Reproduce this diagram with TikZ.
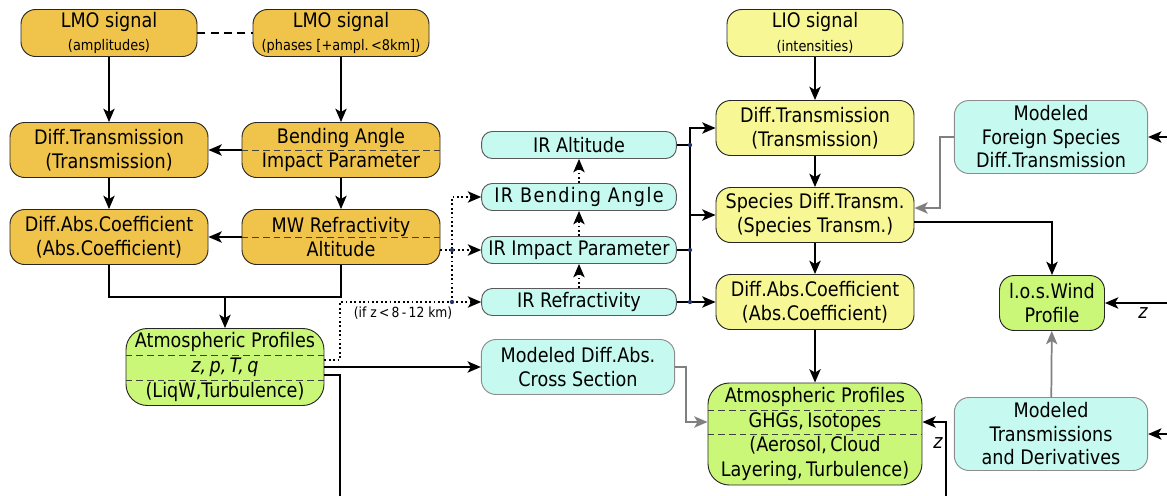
\documentclass[tikz,border=0pt]{standalone}
\usepackage{fontspec}
\setmainfont[FakeStretch=0.88]{DejaVu Sans}
\usepackage{tikz}
\usetikzlibrary{arrows.meta, positioning, calc}
\definecolor{lmocolor}{RGB}{240,195,74}
\definecolor{liocolor}{RGB}{247,247,150}
\definecolor{ircolor}{RGB}{198,250,240}
\definecolor{profcolor}{RGB}{203,247,120}
\definecolor{dotcolor}{RGB}{35,55,110}
\newcommand{\subtxt}[1]{{\fontsize{11}{12}\selectfont #1}}

\begin{document}
\begin{tikzpicture}[
    x=0.75pt, y=-0.75pt,
    box/.style={draw=black!85, line width=0.7pt, fill=#1, rounded corners=11pt, inner sep=0pt, align=center, font=\fontsize{15}{17.6}\selectfont, minimum width=148.5pt, minimum height=41.25pt},
    signal/.style={box=#1, minimum width=132pt, minimum height=35.25pt},
    profile/.style={box=profcolor, rounded corners=16pt, font=\fontsize{15}{18.4}\selectfont},
    irbox/.style={box=ircolor, draw=black!65, rounded corners=8pt, minimum width=146pt, minimum height=20.25pt},
    model/.style={box=ircolor, draw=black!45, minimum width=145pt},
    flow/.style={-{Stealth[length=10pt,width=8.5pt,inset=2.5pt]}, line width=1.3pt},
    dotflow/.style={flow, dotted},
    modflow/.style={flow, draw=black!50},
    divider/.style={dash pattern=on 5pt off 3pt, line width=0.6pt, black!75},
    joint/.style={fill=dotcolor}
]
    \useasboundingbox (0,0) rectangle (1167,496);

    % LMO branch
    \node[signal=lmocolor] (lmoamp) at (109,33) {LMO signal\\\subtxt{(amplitudes)}};
    \node[signal=lmocolor] (lmophase) at (341,33) {LMO signal\\\subtxt{(phases [+ampl.\,<8km])}};
    \node[box=lmocolor] (dtleft) at (109,150) {Diff.Transmission\\(Transmission)};
    \node[box=lmocolor] (bend) at (341,150) {Bending Angle\\Impact Parameter};
    \node[box=lmocolor] (dabsleft) at (109,237) {Diff.Abs.Coefficient\\(Abs.Coefficient)};
    \node[box=lmocolor] (mwref) at (341,237) {MW Refractivity\\Altitude};
    \node[profile, minimum height=57.75pt] (atmoleft) at (225,367) {Atmospheric Profiles\\\textit{z,\,p,\,T,\,q}\\(LiqW,Turbulence)};
    \draw[divider] (bend.west) -- (bend.east);
    \draw[divider] (mwref.west) -- (mwref.east);
    \draw[divider] ($(atmoleft.west)+(0,-12)$) -- ($(atmoleft.east)+(0,-12)$);
    \draw[divider] ($(atmoleft.west)+(0,13)$) -- ($(atmoleft.east)+(0,13)$);

    % IR branch
    \node[irbox] (iralt) at (579,145) {IR Altitude};
    \node[irbox] (irbend) at (579,197) {\addfontfeature{LetterSpace=7}IR Bending Angle};
    \node[irbox] (irimp) at (579,250) {IR Impact Parameter};
    \node[irbox] (irref) at (579,302) {IR Refractivity};
    \node[model] (moddiff) at (578,367) {Modeled Diff.Abs.\\Cross Section};

    % LIO branch
    \node[signal=liocolor] (lio) at (815,33) {LIO signal\\\subtxt{(intensities)}};
    \node[box=liocolor] (dtright) at (815,128) {Diff.Transmission\\(Transmission)};
    \node[box=liocolor] (species) at (815,215) {Species Diff.Transm.\\(Species Transm.)};
    \node[box=liocolor] (dabsright) at (815,302) {Diff.Abs.Coefficient\\(Abs.Coefficient)};
    \node[profile, minimum width=160.5pt, minimum height=76.5pt] (atmoright) at (815,434) {Atmospheric Profiles\\GHGs,\,Isotopes\\(Aerosol,\,Cloud\\Layering,\,Turbulence)};
    \draw[divider] ($(atmoright.west)+(0,-24)$) -- ($(atmoright.east)+(0,-24)$);
    \draw[divider] (atmoright.west) -- (atmoright.east);
    \node[model, minimum height=54.75pt] (foreign) at (1051,137) {Modeled\\Foreign Species\\Diff.Transmission};
    \node[box=profcolor, minimum width=78.75pt] (wind) at (1052,303) {l.o.s.Wind\\Profile};
    \node[model, minimum height=54.75pt] (modtrans) at (1051,434) {Modeled\\Transmissions\\and Derivatives};

    % Junctions
    \coordinate (join) at (225,297);
    \coordinate (dj1) at (452,250);
    \coordinate (dj2) at (452,302);
    \coordinate (ifz) at (340,302);
    \coordinate (rb1) at (690,145);
    \coordinate (rb2) at (690,250);
    \coordinate (rb3) at (690,302);
    \coordinate (gbend) at (686,422);
    \coordinate (fbend) at (940,208);
    \coordinate (zbend) at (946,422);
    \coordinate (inforeign) at (1167,137);
    \coordinate (inwind) at (1167,303);
    \coordinate (intrans) at (1167,434);
    \coordinate (botz) at (946,496);
    \coordinate (botleft) at (340,496);

    % Connections LMO
    \draw[dash pattern=on 6pt off 4pt, line width=1.3pt] (lmoamp) -- (lmophase);
    \draw[flow] (lmoamp) -- (dtleft);
    \draw[flow] (lmophase) -- (bend);
    \draw[flow] (bend) -- (dtleft);
    \draw[flow] (dtleft) -- (dabsleft);
    \draw[flow] (bend) -- (mwref);
    \draw[flow] (mwref) -- (dabsleft);
    \draw[line width=1.3pt] (dabsleft.south) |- (join) -| (mwref.south);
    \draw[flow] (join) -- (atmoleft);

    % Connections IR
    \draw[dotflow] (mwref.east |- irimp) -- (irimp);
    \draw[dotflow] (dj2) |- (irbend);
    \draw[dotflow] (dj2) -- (irref);
    \draw[dotted, line width=1.3pt] ($(atmoleft.east)+(0,-7)$) -| (ifz) -- (dj2);
    \node[font=\fontsize{10.5}{12}\selectfont] (ifzlabel) at (403,313) {(if z\,<\,8\,-\,12 km)};
    \draw[dotflow] (irref) -- (irimp);
    \draw[dotflow] (irimp) -- (irbend);
    \draw[dotflow] (irbend) -- (iralt);
    \draw[line width=1.3pt] (iralt) -- (rb1);
    \draw[line width=1.3pt] (irimp) -- (rb2);
    \draw[flow] (irref) -- (dabsright);
    \draw[flow] (rb3) |- (dtright);
    \draw[flow] (rb3 |- species) -- (species);
    \draw[flow] (atmoleft) -- (moddiff);
    \draw[line width=1.3pt] ($(atmoleft.east)+(0,8)$) -| (botleft);
    \draw[modflow] (moddiff.east) -| (gbend) -- (atmoright.west |- gbend);

    % Connections LIO
    \draw[flow] (lio) -- (dtright);
    \draw[flow] (dtright) -- (species);
    \draw[flow] (species) -- (dabsright);
    \draw[flow] (dabsright) -- (atmoright);
    \draw[modflow] (foreign.west) -| (fbend) -- (species.east |- fbend);
    \draw[flow] ($(species.east)+(0,7)$) -| (wind.north);
    \draw[modflow] (modtrans) -- (wind);
    \draw[flow] (inforeign) -- (foreign);
    \draw[flow] (inwind) -- (wind);
    \draw[flow] (intrans) -- (modtrans);
    \draw[flow] (botz) -- (zbend) -- (atmoright.east |- zbend);
    \node[font=\fontsize{15}{17}\selectfont\itshape] (zwind) at (1143,313) {z};
    \node[font=\fontsize{15}{17}\selectfont\itshape] (zprof) at (938,443) {z};

    % Junction dots
    \foreach \j in {dj1,dj2,rb1,rb2,rb3}
        \fill[joint] (\j) circle (1.6pt);
\end{tikzpicture}
\end{document}
